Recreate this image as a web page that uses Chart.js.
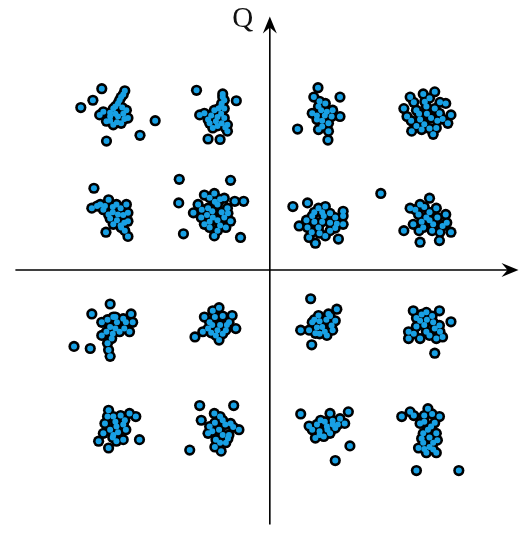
<!DOCTYPE html>
<html>
<head>
<meta charset="utf-8">
<script src="https://cdn.jsdelivr.net/npm/chart.js@4"></script>
<style>
  html, body { margin: 0; padding: 0; background: #fff; }
  #wrap { width: 524px; height: 534px; position: relative; }
</style>
</head>
<body>
<div id="wrap"><canvas id="c"></canvas></div>
<script>
// Received 16-QAM symbols, [I, Q] pairs, grouped by quadrant.
const quadrant1 = [
  // (+1, +3)
  [0.53,2.69],[0.92,3.48],[1.34,3.30],[1.11,2.48],[0.81,2.99],[0.93,3.12],[1.06,3.18],[1.09,3.02],
  [0.90,2.87],[1.00,2.74],[1.34,2.93],[1.18,2.93],[0.93,2.68],[1.12,2.65],[0.84,3.30],
  [0.98,3.05],[0.90,2.95],[1.05,2.95],[1.00,2.85],[1.12,2.80],[0.95,3.22],[1.20,3.05],
  // (+3, +3)
  [2.68,3.30],[2.93,3.36],[3.15,3.40],[3.36,3.18],[3.46,2.96],[3.40,2.80],[3.18,2.71],[3.12,2.59],
  [2.90,2.68],[2.71,2.65],[2.62,2.93],[2.56,3.08],[2.80,3.05],[2.99,3.12],[3.24,2.99],[3.08,2.90],
  [2.87,2.87],[2.96,3.21],
  [2.75,3.20],[3.05,3.28],[3.25,3.20],[2.70,2.85],[2.85,2.98],[3.15,3.08],[3.00,2.98],[3.30,2.88],
  [2.95,2.78],[3.20,2.85],[2.80,2.75],[3.05,2.70],
  // (+1, +1)
  [0.44,1.21],[0.72,1.28],[1.40,1.12],[0.87,0.51],[1.31,0.59],[0.93,1.18],[1.06,1.21],[0.81,1.03],
  [1.03,1.03],[1.25,1.00],[1.40,0.87],[0.56,0.84],[0.72,0.81],[0.93,0.81],[1.15,0.75],[0.75,0.62],
  [1.06,0.65],[1.40,1.03],
  [0.85,1.10],[1.00,1.10],[1.15,1.08],[0.70,0.95],[0.85,0.92],[1.00,0.92],[1.15,0.90],[1.28,0.88],
  [0.80,0.72],[0.95,0.70],[1.25,0.80],
  // (+3, +1)
  [2.12,1.46],[2.56,0.75],[2.87,0.53],[2.68,1.18],[2.87,1.25],[3.05,1.37],[3.18,1.18],[2.84,1.06],
  [2.99,1.00],[3.36,1.06],[3.12,0.87],[3.30,0.84],[3.46,0.72],[3.24,0.56],[2.93,0.81],[2.74,0.87],
  [2.78,1.15],[2.95,1.20],[3.05,1.10],[2.90,0.92],[3.05,0.95],[3.20,1.00],[3.25,0.72],[3.10,0.75],
  [3.38,0.90],[2.85,0.75]
];
const quadrant2 = [
  // (-3, +3)
  [-3.21,3.46],[-3.38,3.24],[-3.61,3.10],[-3.12,2.46],[-2.48,2.57],[-2.19,2.85],[-2.77,3.42],[-2.84,3.30],
  [-2.90,3.18],[-2.99,3.08],[-3.18,3.02],[-3.05,2.93],[-2.90,2.93],[-2.74,3.05],[-2.71,2.90],[-2.99,2.77],
  [-2.84,2.80],[-3.12,2.84],[-3.25,2.96],
  [-2.80,3.35],[-2.87,3.24],[-2.95,3.12],[-2.82,3.10],[-3.05,3.00],[-2.95,2.98],[-2.80,2.98],[-2.78,2.88],
  [-3.05,2.85],[-2.92,2.82],
  // (-1, +3)
  [-1.40,3.43],[-0.64,3.23],[-1.18,2.50],[-0.95,2.49],[-0.90,3.36],[-0.87,3.24],[-0.93,3.12],[-1.06,3.05],
  [-1.25,2.99],[-1.34,2.96],[-1.18,2.87],[-1.03,2.84],[-0.87,2.90],[-0.81,2.77],[-1.09,2.71],[-0.81,2.65],
  [-0.87,3.08],
  [-0.90,3.30],[-0.92,3.18],[-0.98,3.08],[-0.93,2.98],[-1.12,2.95],[-1.00,2.92],[-0.92,2.80],[-1.15,2.80],
  [-0.85,2.72],[-1.00,2.75],
  // (-3, +1)
  [-3.36,1.56],[-3.13,0.72],[-2.71,0.64],[-3.40,1.18],[-3.24,1.25],[-3.08,1.34],[-2.93,1.25],[-2.74,1.25],
  [-2.71,0.93],[-2.71,1.09],[-3.08,1.06],[-2.90,1.06],[-2.99,0.87],[-2.84,0.81],[-3.18,1.15],[-2.77,0.75],
  [-3.30,1.22],[-3.15,1.22],[-3.00,1.20],[-2.85,1.18],[-3.00,1.10],[-2.80,1.05],[-2.92,0.95],[-2.78,0.90],
  [-3.05,0.98],[-2.85,0.85],
  // (-1, +1)
  [-1.73,1.73],[-0.75,1.71],[-1.74,1.28],[-0.67,1.31],[-0.50,1.31],[-1.65,0.69],[-0.56,0.62],[-1.25,1.43],
  [-1.06,1.46],[-0.87,1.37],[-1.37,1.25],[-1.46,1.09],[-1.18,1.18],[-1.00,1.25],[-0.81,1.18],[-1.31,1.00],
  [-1.09,1.00],[-0.87,1.00],[-0.75,0.93],[-1.15,0.81],[-1.00,0.75],[-0.84,0.81],[-1.25,0.87],[-1.06,0.65],
  [-1.15,1.38],[-0.95,1.35],[-1.30,1.15],[-1.10,1.12],[-0.92,1.10],[-1.20,1.05],[-1.00,0.95],[-0.80,1.08],
  [-1.15,0.92],[-0.95,0.85],[-1.05,1.30]
];
const quadrant3 = [
  // (-3, -1)
  [-3.74,-1.46],[-3.43,-1.50],[-3.40,-0.84],[-3.05,-0.65],[-3.05,-1.65],[-3.08,-1.53],[-3.21,-1.00],[-2.99,-0.90],
  [-2.80,-0.93],[-2.65,-0.84],[-2.62,-1.00],[-2.68,-1.18],[-2.87,-1.18],[-3.21,-1.25],[-3.05,-1.09],[-3.02,-1.31],
  [-3.10,-0.95],[-2.92,-1.00],[-2.75,-1.00],[-3.12,-1.18],[-2.95,-1.12],[-2.78,-1.12],[-3.00,-1.22],[-3.10,-1.40],
  [-2.95,-0.90],
  // (-1, -1)
  [-1.43,-1.28],[-1.25,-0.90],[-1.09,-0.78],[-0.97,-0.72],[-0.72,-0.87],[-0.78,-1.00],[-0.65,-1.12],[-0.84,-1.15],
  [-1.03,-1.25],[-1.18,-1.12],[-1.15,-1.00],[-0.97,-1.34],[-1.28,-1.18],
  [-1.05,-0.90],[-0.90,-0.88],[-1.10,-1.05],[-0.95,-1.05],[-0.82,-1.05],[-1.00,-1.15],[-0.90,-1.22],[-1.12,-1.20],
  // (-3, -3)
  [-3.27,-3.27],[-3.08,-3.40],[-2.49,-3.24],[-2.56,-2.80],[-3.08,-2.68],[-2.99,-2.80],[-3.15,-2.93],[-2.93,-2.99],
  [-2.77,-2.87],[-2.68,-2.74],[-3.18,-3.12],[-2.99,-3.15],[-2.80,-3.24],[-2.93,-3.27],
  [-2.95,-2.90],[-2.80,-2.95],[-3.05,-3.05],[-2.90,-3.10],[-2.75,-3.05],[-3.00,-3.20],[-2.85,-2.78],[-3.10,-2.80],
  // (-1, -3)
  [-1.34,-2.59],[-0.69,-2.59],[-1.31,-2.87],[-1.53,-3.44],[-1.06,-2.74],[-0.90,-2.87],[-0.75,-2.93],[-0.59,-3.05],
  [-1.15,-2.99],[-0.97,-3.05],[-0.78,-3.15],[-1.03,-3.24],[-0.84,-3.30],[-0.93,-3.46],[-1.18,-3.12],
  [-0.95,-2.80],[-1.05,-2.92],[-0.85,-2.95],[-0.70,-3.00],[-1.10,-3.08],[-0.90,-3.15],[-0.95,-3.30],[-0.80,-3.22],
  [-1.05,-3.38]
];
const quadrant4 = [
  // (+1, -1)
  [0.78,-0.55],[0.59,-1.15],[0.80,-1.43],[1.28,-0.75],[1.12,-0.84],[0.93,-0.87],[0.81,-1.00],[1.00,-1.09],
  [1.18,-1.06],[0.87,-1.21],[1.09,-1.25],[1.25,-0.97],[0.75,-1.15],
  [0.95,-0.98],[1.08,-0.95],[1.15,-0.88],[0.90,-1.10],[1.05,-1.18],[0.95,-1.22],[1.20,-1.15],[0.85,-0.95],
  // (+3, -1)
  [3.46,-0.99],[3.15,-1.59],[2.74,-0.78],[2.99,-0.81],[3.24,-0.78],[2.87,-0.97],[3.12,-1.00],[2.65,-1.18],
  [2.99,-1.18],[2.65,-1.31],[2.87,-1.31],[3.18,-1.31],[3.30,-1.28],[3.24,-1.06],
  [2.90,-0.85],[3.10,-0.88],[3.00,-0.95],[2.80,-1.08],[2.95,-1.05],[3.15,-1.12],[2.75,-1.22],[3.05,-1.25],
  [3.25,-1.18],[2.80,-0.92],
  // (+1, -3)
  [0.59,-2.75],[1.50,-2.71],[1.53,-3.36],[1.25,-3.64],[0.81,-3.05],[0.97,-2.87],[1.15,-2.74],[1.34,-2.84],
  [1.43,-2.93],[1.09,-2.99],[1.25,-3.02],[0.87,-3.21],[1.03,-3.18],[1.15,-3.12],
  [0.90,-2.95],[1.05,-2.90],[1.20,-2.88],[1.30,-2.95],[0.95,-3.08],[1.10,-3.05],[0.95,-3.15],[1.20,-2.95],
  [0.75,-2.98],
  // (+3, -3)
  [2.80,-3.83],[3.61,-3.83],[2.52,-2.80],[2.68,-2.71],[3.02,-2.65],[3.24,-2.80],[2.87,-2.93],[3.08,-2.99],
  [2.93,-3.12],[3.18,-3.12],[2.93,-3.30],[3.12,-3.30],[2.99,-3.49],[3.18,-3.49],[2.84,-3.40],[3.12,-3.43],
  [2.75,-2.78],[2.95,-2.78],[3.10,-2.75],[2.95,-2.90],[3.15,-2.92],[3.02,-3.05],[2.90,-3.22],[3.05,-3.20],
  [3.05,-3.38],[2.95,-3.42],[3.20,-3.25]
];

const axisLabelQ = 'Q';

const symbols = [...quadrant1, ...quadrant2, ...quadrant3, ...quadrant4]
  .map(([i, q]) => ({ x: i, y: q }));

// I/Q axes with arrowheads, crossing at the origin.
const iqAxes = {
  id: 'iqAxes',
  beforeDatasetsDraw(chart) {
    const { ctx, scales: { x, y } } = chart;
    const x0 = x.getPixelForValue(0), y0 = y.getPixelForValue(0);
    const left = x.getPixelForValue(-4.86), right = x.getPixelForValue(4.75);
    const bottom = y.getPixelForValue(-4.86), top = y.getPixelForValue(4.84);
    ctx.save();
    ctx.strokeStyle = '#000';
    ctx.fillStyle = '#000';
    ctx.lineWidth = 1.6;
    ctx.beginPath();
    ctx.moveTo(left, y0); ctx.lineTo(right - 8, y0);
    ctx.moveTo(x0, bottom); ctx.lineTo(x0, top + 8);
    ctx.stroke();
    const head = (tx, ty, dx, dy) => {
      const L = 17, W = 7, notch = 11;
      const px = -dy, py = dx;
      ctx.beginPath();
      ctx.moveTo(tx, ty);
      ctx.lineTo(tx - dx * L + px * W, ty - dy * L + py * W);
      ctx.lineTo(tx - dx * notch, ty - dy * notch);
      ctx.lineTo(tx - dx * L - px * W, ty - dy * L - py * W);
      ctx.closePath();
      ctx.fill();
    };
    head(right, y0, 1, 0);
    head(x0, top, 0, -1);
    ctx.font = '29px "Liberation Serif", "DejaVu Serif", serif';
    ctx.fillStyle = '#111';
    ctx.textAlign = 'center';
    ctx.textBaseline = 'alphabetic';
    ctx.fillText(axisLabelQ, x0 - 27, y.getPixelForValue(4.64));
    ctx.restore();
  }
};

new Chart(document.getElementById('c'), {
  type: 'scatter',
  data: {
    datasets: [
      {
        // blue symbol cores, drawn on top
        data: symbols,
        order: 0,
        pointRadius: 3.0,
        pointBackgroundColor: '#18a0e4',
        pointBorderWidth: 0,
        pointHoverRadius: 3.0
      },
      {
        // black outlines underneath
        data: symbols,
        order: 1,
        pointRadius: 5.6,
        pointBackgroundColor: '#000',
        pointBorderWidth: 0,
        pointHoverRadius: 5.6
      }
    ]
  },
  options: {
    responsive: true,
    maintainAspectRatio: false,
    animation: false,
    events: [],
    layout: { padding: 0 },
    plugins: { legend: { display: false }, tooltip: { enabled: false } },
    scales: {
      x: { type: 'linear', display: false, min: -5.047, max: 4.748 },
      y: { type: 'linear', display: false, min: -4.935, max: 5.047 }
    }
  },
  plugins: [iqAxes]
});
</script>
</body>
</html>
